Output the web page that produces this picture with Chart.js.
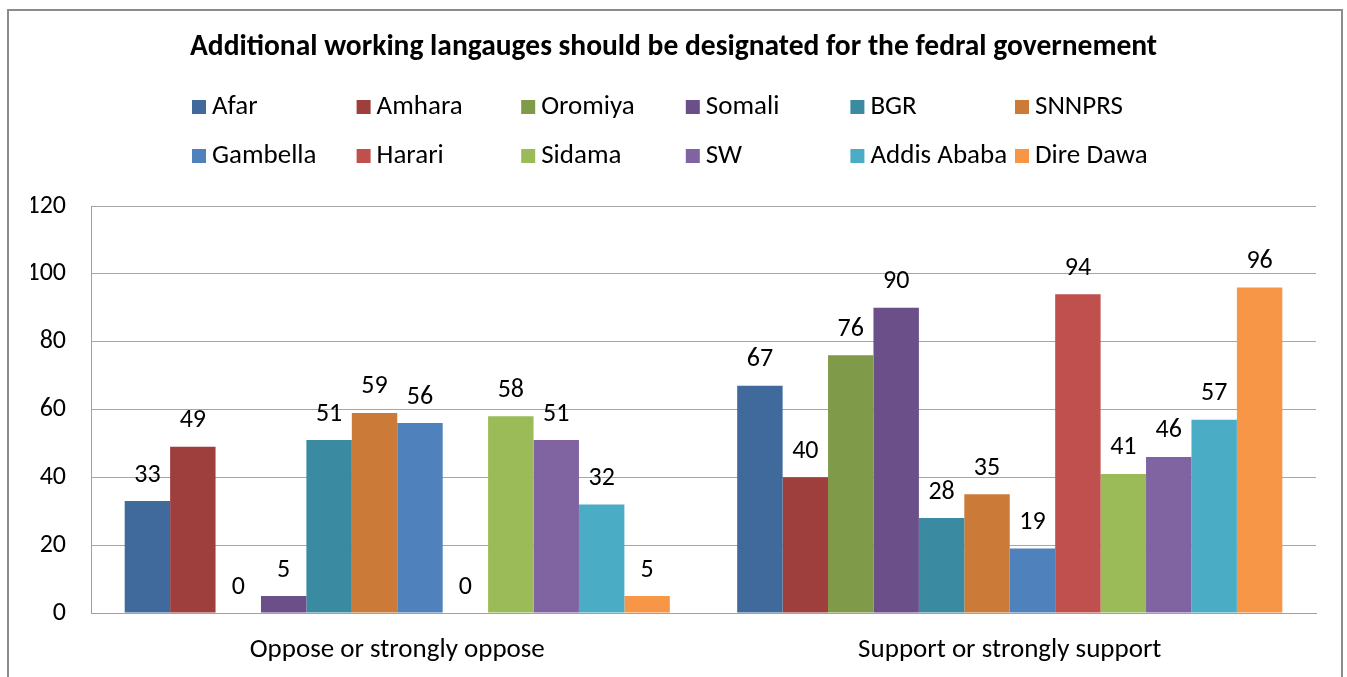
<!DOCTYPE html>
<html>
<head>
<meta charset="utf-8">
<script src="https://cdn.jsdelivr.net/npm/chart.js@4"></script>
<style>
    html, body { margin: 0; padding: 0; background: #fff; }
    #wrap { position: relative; width: 1347px; height: 677px; overflow: hidden; }
    #frame {
        position: absolute; left: 7px; top: 9px; width: 1332px; height: 700px;
        border: 2px solid #8c8c8c; pointer-events: none;
    }
</style>
</head>
<body>
<div id="wrap">
    <canvas id="chart" width="1347" height="677"></canvas>
    <div id="frame"></div>
</div>
<script>
// Chart data
const categories = ['Oppose or strongly oppose', 'Support or strongly support'];
const regions = ['Afar', 'Amhara', 'Oromiya', 'Somali', 'BGR', 'SNNPRS',
                 'Gambella', 'Harari', 'Sidama', 'SW', 'Addis Ababa', 'Dire Dawa'];
const opposeValues = [33, 49, 0, 5, 51, 59, 56, 0, 58, 51, 32, 5];
const supportValues = [67, 40, 76, 90, 28, 35, 19, 94, 41, 46, 57, 96];
const regionColors = ['#3f6a9b', '#9e3f3d', '#7f9a48', '#6a4f88', '#3a8ba2', '#cb7a37',
                      '#4f81bd', '#c0504d', '#9bbb59', '#8064a2', '#4bacc6', '#f79646'];
const yTickMin = 0;
const yTickMax = 120;
const yTickStep = 20;

const FONT = 'Carlito, Lato, sans-serif';

// Value labels above each bar
const valueLabels = {
    id: 'valueLabels',
    afterDatasetsDraw(chart) {
        const ctx = chart.ctx;
        ctx.save();
        ctx.font = '26px ' + FONT;
        ctx.fillStyle = '#000';
        ctx.textAlign = 'center';
        ctx.textBaseline = 'middle';
        chart.data.datasets.forEach((ds, i) => {
            chart.getDatasetMeta(i).data.forEach((bar, j) => {
                ctx.fillText(ds.data[j], bar.x, bar.y - 26);
            });
        });
        ctx.restore();
    }
};

// Legend laid out in fixed columns, two rows of six
const gridLegend = {
    id: 'gridLegend',
    afterDraw(chart) {
        const ctx = chart.ctx;
        ctx.save();
        ctx.font = '27px ' + FONT;
        ctx.textBaseline = 'middle';
        chart.data.datasets.forEach((ds, i) => {
            const col = i % 6;
            const row = Math.floor(i / 6);
            const x = 192 + col * 164.6;
            const y = 107 + row * 49;
            ctx.fillStyle = ds.backgroundColor;
            ctx.fillRect(x, y - 7, 14, 14);
            ctx.fillStyle = '#000';
            ctx.fillText(ds.label, x + 20, y);
        });
        ctx.restore();
    }
};

const datasets = regions.map((name, i) => ({
    label: name,
    data: [opposeValues[i], supportValues[i]],
    backgroundColor: regionColors[i],
    borderWidth: 0
}));

new Chart(document.getElementById('chart'), {
    type: 'bar',
    data: { labels: categories, datasets },
    options: {
        responsive: false,
        devicePixelRatio: 1,
        animation: false,
        layout: { padding: { left: 31, right: 31, top: 0, bottom: 0 } },
        datasets: {
            bar: { categoryPercentage: 0.89, barPercentage: 1.0 }
        },
        plugins: {
            legend: { display: false },
            tooltip: { enabled: false },
            title: {
                display: true,
                text: 'Additional working langauges should be designated for the fedral governement',
                color: '#000',
                font: { family: FONT, size: 29.5, weight: 'bold', lineHeight: 1 },
                padding: { top: 33, bottom: 143.5 }
            }
        },
        scales: {
            x: {
                grid: { display: false, drawTicks: false },
                border: { display: true, color: '#a0a0a0', width: 1 },
                ticks: { color: '#000', font: { family: FONT, size: 27 }, padding: 21 },
                afterFit(scale) { scale.height = 64; }
            },
            y: {
                min: yTickMin,
                max: yTickMax,
                grid: { color: '#a6a6a6', drawTicks: false },
                border: { display: true, color: '#a0a0a0', width: 1 },
                ticks: { stepSize: yTickStep, color: '#000', font: { family: FONT, size: 26 }, padding: 25 },
                afterFit(scale) { scale.width = 60; }
            }
        }
    },
    plugins: [valueLabels, gridLegend]
});
</script>
</body>
</html>
